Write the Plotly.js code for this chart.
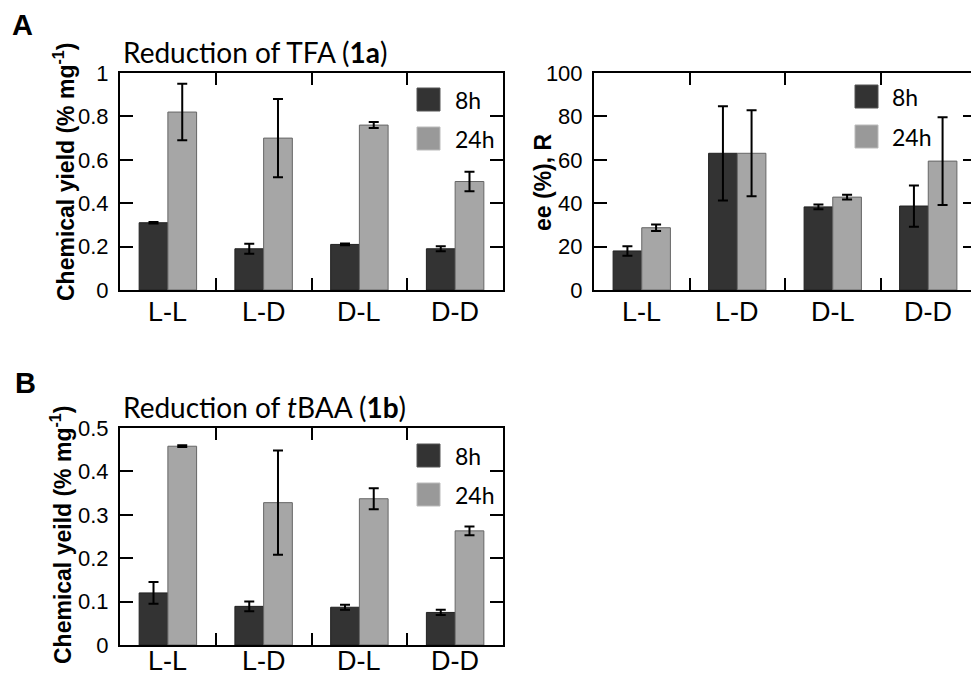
<!DOCTYPE html>
<html>
<head>
<meta charset="utf-8">
<script src="https://cdn.plot.ly/plotly-3.0.1.min.js"></script>
<style>
html, body { margin:0; padding:0; overflow:hidden; background:#fff; }
#chart { width:977px; height:676px; }
</style>
</head>
<body>
<div id="chart"></div>
<script>
// ---- data ----
const categories = ["L-L", "L-D", "D-L", "D-D"];
const seriesNames = ["8h", "24h"];

// Panel A left: chemical yield, reduction of TFA (1a)
const yieldTFA_8h = [0.31, 0.19, 0.21, 0.19];
const yieldTFA_8h_err = [0.003, 0.023, 0.004, 0.012];
const yieldTFA_24h = [0.82, 0.70, 0.76, 0.50];
const yieldTFA_24h_err = [0.13, 0.18, 0.014, 0.045];

// Panel A right: ee (%), R
const eeTFA_8h = [18, 63, 38.3, 38.7];
const eeTFA_8h_err = [2.2, 21.7, 1.1, 9.5];
const eeTFA_24h = [28.7, 63, 42.8, 59.4];
const eeTFA_24h_err = [1.5, 19.8, 1.1, 20.2];

// Panel B: chemical yield, reduction of tBAA (1b)
const yieldTBAA_8h = [0.12, 0.089, 0.087, 0.075];
const yieldTBAA_8h_err = [0.025, 0.011, 0.006, 0.006];
const yieldTBAA_24h = [0.458, 0.328, 0.337, 0.263];
const yieldTBAA_24h_err = [0.002, 0.12, 0.024, 0.010];

const yTicksA = [0, 0.2, 0.4, 0.6, 0.8, 1];
const yTicksEE = [0, 20, 40, 60, 80, 100];
const yTicksB = [0, 0.1, 0.2, 0.3, 0.4, 0.5];

// ---- styling ----
const W = 977, H = 676;
const px = x => x / W;
const py = y => 1 - y / H;
const DARK = "#333333", LIGHT = "#a6a6a6";
const arial = "Liberation Sans, Arial, sans-serif";
const tickFont = {family: arial, size: 22, color: "#000"};
const catFont = {family: arial, size: 27, color: "#000"};
const calib = "Lato, 'Open Sans', sans-serif";

function bar(name, y, err, color, lineColor, xa, ya) {
  return {
    type: "bar", name: name, x: categories, y: y,
    xaxis: xa, yaxis: ya, showlegend: false,
    marker: {color: color, line: {color: lineColor, width: 1}},
    error_y: {type: "data", array: err, visible: true, color: "#000", thickness: 2, width: 5}
  };
}

const traces = [
  bar(seriesNames[0], yieldTFA_8h, yieldTFA_8h_err, DARK, "#222", "x", "y"),
  bar(seriesNames[1], yieldTFA_24h, yieldTFA_24h_err, LIGHT, "#666", "x", "y"),
  bar(seriesNames[0], eeTFA_8h, eeTFA_8h_err, DARK, "#222", "x2", "y2"),
  bar(seriesNames[1], eeTFA_24h, eeTFA_24h_err, LIGHT, "#666", "x2", "y2"),
  bar(seriesNames[0], yieldTBAA_8h, yieldTBAA_8h_err, DARK, "#222", "x3", "y3"),
  bar(seriesNames[1], yieldTBAA_24h, yieldTBAA_24h_err, LIGHT, "#666", "x3", "y3")
];

function xax(domain, anchor) {
  return {
    domain: domain, anchor: anchor, type: "category",
    showline: true, linecolor: "#000", linewidth: 2, mirror: "ticks",
    ticks: "inside", ticklen: 12, tickwidth: 2, tickcolor: "#000",
    tickson: "boundaries", showticklabels: false, showgrid: false, zeroline: false,
    fixedrange: true
  };
}
function yax(domain, anchor, range, tv) {
  return {
    domain: domain, anchor: anchor, range: range,
    tickvals: tv, ticktext: tv.map(v => String(v)),
    showline: true, linecolor: "#000", linewidth: 2, mirror: "ticks",
    ticks: "inside", ticklen: 13, tickwidth: 2, tickcolor: "#000",
    tickfont: tickFont, showgrid: false, zeroline: false,
    ticklabelstandoff: 5, fixedrange: true
  };
}

const shapes = [];
const annotations = [];

// category labels placed through the category axes
function catLabels(xref, yPix) {
  categories.forEach(c => {
    annotations.push({xref: xref, yref: "paper", x: c, y: py(yPix),
      xanchor: "center", yanchor: "middle", showarrow: false, text: c, font: catFont,
      borderpad: 0});
  });
}
catLabels("x", 312);
catLabels("x2", 312);
catLabels("x3", 661);

function legend(x0, y8, y24, tx) {
  shapes.push({type: "rect", xref: "paper", yref: "paper",
    x0: px(x0), x1: px(x0 + 23), y0: py(y8 + 23), y1: py(y8),
    fillcolor: DARK, line: {color: "#555", width: 1}});
  shapes.push({type: "rect", xref: "paper", yref: "paper",
    x0: px(x0), x1: px(x0 + 23), y0: py(y24 + 23), y1: py(y24),
    fillcolor: "#999999", line: {color: "#bbb", width: 1}});
  annotations.push({xref: "paper", yref: "paper", x: px(tx), y: py(y8 + 12),
    xanchor: "left", yanchor: "middle", showarrow: false, text: seriesNames[0],
    font: {family: calib, size: 23, color: "#000"}});
  annotations.push({xref: "paper", yref: "paper", x: px(tx), y: py(y24 + 12),
    xanchor: "left", yanchor: "middle", showarrow: false, text: seriesNames[1],
    font: {family: calib, size: 23, color: "#000"}});
}
legend(417, 88, 127, 453);
legend(855, 85, 125, 890);
legend(417, 444, 483, 453);

function txt(x, y, text, font, extra) {
  annotations.push(Object.assign({xref: "paper", yref: "paper", x: px(x), y: py(y),
    showarrow: false, text: text, font: font}, extra || {}));
}
const boldTitle = {family: arial, size: 23, color: "#000"};
txt(10, 25, "<b>A</b>", {family: arial, size: 29, color: "#000"}, {xanchor: "left", yanchor: "middle"});
txt(13, 383, "<b>B</b>", {family: arial, size: 29, color: "#000"}, {xanchor: "left", yanchor: "middle"});
txt(121, 52, "Reduction of TFA (<b>1a</b>)", {family: calib, size: 28, color: "#000"}, {xanchor: "left", yanchor: "middle"});
txt(121, 407, "Reduction of <i>t</i>BAA (<b>1b</b>)", {family: calib, size: 28, color: "#000"}, {xanchor: "left", yanchor: "middle"});
txt(64, 172, "<b>Chemical yield (% mg<sup>-1</sup>)</b>", boldTitle, {textangle: -90, xanchor: "center", yanchor: "middle"});
txt(61, 535, "<b>Chemical yeild (% mg<sup>-1</sup>)</b>", boldTitle, {textangle: -90, xanchor: "center", yanchor: "middle"});
txt(543, 182, "<b>ee (%), R</b>", boldTitle, {textangle: -90, xanchor: "center", yanchor: "middle"});

const layout = {
  width: W, height: H,
  margin: {l: 0, r: 0, t: 0, b: 0},
  paper_bgcolor: "#fff", plot_bgcolor: "#fff",
  barmode: "group", bargap: 0.4, bargroupgap: 0,
  showlegend: false,
  xaxis: xax([px(120), px(503)], "y"),
  yaxis: yax([py(290), py(73)], "x", [0, 1], yTicksA),
  xaxis2: xax([px(594), px(976)], "y2"),
  yaxis2: yax([py(290), py(73)], "x2", [0, 100], yTicksEE),
  xaxis3: xax([px(120), px(503)], "y3"),
  yaxis3: yax([py(645), py(428)], "x3", [0, 0.5], yTicksB),
  shapes: shapes,
  annotations: annotations
};

Plotly.newPlot("chart", traces, layout, {displayModeBar: false, staticPlot: true});
</script>
</body>
</html>
